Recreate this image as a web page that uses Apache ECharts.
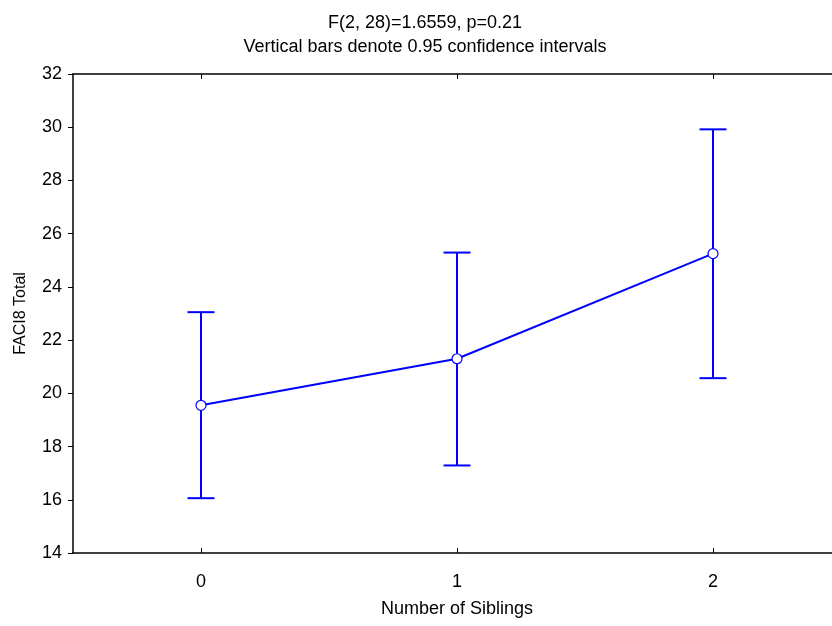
<!DOCTYPE html>
<html>
<head>
<meta charset="utf-8">
<script src="https://cdn.jsdelivr.net/npm/echarts@6/dist/echarts.min.js"></script>
<style>html,body{margin:0;padding:0;background:#fff;}#c{width:832px;height:626px;}</style>
</head>
<body>
<div id="c"></div>
<script>
var categories = ['0', '1', '2'];
var means = [19.55, 21.3, 25.25];
var lower = [16.06, 17.29, 20.57];
var upper = [23.05, 25.29, 29.92];
var yTicks = [14, 32, 2];
var titleText = 'F(2, 28)=1.6559, p=0.21';
var subtitleText = 'Vertical bars denote 0.95 confidence intervals';

var chart = echarts.init(document.getElementById('c'));
var font = 'Liberation Sans, Arial, sans-serif';
var blue = '#0000FF';
var errData = categories.map(function (c, i) { return [i, lower[i], upper[i]]; });

chart.setOption({
  animation: false,
  backgroundColor: '#fff',
  title: [
    { text: titleText, left: 420, top: 9, textAlign: 'center',
      textStyle: { fontFamily: font, fontSize: 18, fontWeight: 'normal', color: '#000' } },
    { text: subtitleText, left: 420, top: 33, textAlign: 'center',
      textStyle: { fontFamily: font, fontSize: 18, fontWeight: 'normal', color: '#000' } }
  ],
  grid: { left: 73, right: -9, top: 74, bottom: 73, containLabel: false, outerBoundsMode: 'none' },
  xAxis: [
    { type: 'category', data: categories, position: 'bottom', boundaryGap: true,
      name: 'Number of Siblings', nameLocation: 'middle', nameGap: 47,
      nameTextStyle: { fontFamily: font, fontSize: 18, color: '#000' },
      axisLine: { show: true, lineStyle: { color: '#000', width: 1.5 } },
      axisTick: { show: true, alignWithLabel: true, inside: true, length: 5, lineStyle: { color: '#000', width: 1 } },
      axisLabel: { show: true, fontFamily: font, fontSize: 18, color: '#000', margin: 20 },
      splitLine: { show: false } },
    { type: 'category', data: categories, position: 'top', boundaryGap: true,
      axisLine: { show: true, lineStyle: { color: '#000', width: 1.5 } },
      axisTick: { show: true, alignWithLabel: true, inside: true, length: 5, lineStyle: { color: '#000', width: 1 } },
      axisLabel: { show: false },
      splitLine: { show: false } }
  ],
  yAxis: {
    type: 'value', min: yTicks[0], max: yTicks[1], interval: yTicks[2],
    name: 'FACI8 Total', nameLocation: 'middle', nameGap: 44, nameRotate: 90,
    nameTextStyle: { fontFamily: font, fontSize: 16, color: '#000' },
    axisLine: { show: true, lineStyle: { color: '#000', width: 1.5 } },
    axisTick: { show: true, inside: false, length: 5, lineStyle: { color: '#000', width: 1 } },
    axisLabel: { fontFamily: font, fontSize: 18, color: '#000', margin: 11 },
    splitLine: { show: false }
  },
  series: [
    {
      type: 'custom',
      xAxisIndex: 0,
      data: errData,
      z: 2,
      renderItem: function (params, api) {
        var x = api.value(0);
        var lo = api.coord([x, api.value(1)]);
        var hi = api.coord([x, api.value(2)]);
        var hw = 13.5;
        var st = { stroke: blue, lineWidth: 2 };
        return {
          type: 'group',
          children: [
            { type: 'line', shape: { x1: lo[0], y1: lo[1], x2: hi[0], y2: hi[1] }, style: st },
            { type: 'line', shape: { x1: lo[0] - hw, y1: lo[1], x2: lo[0] + hw, y2: lo[1] }, style: st },
            { type: 'line', shape: { x1: hi[0] - hw, y1: hi[1], x2: hi[0] + hw, y2: hi[1] }, style: st }
          ]
        };
      }
    },
    {
      type: 'line',
      xAxisIndex: 0,
      data: means,
      z: 3,
      symbol: 'circle',
      symbolSize: 10,
      showAllSymbol: true,
      lineStyle: { color: blue, width: 2 },
      itemStyle: { color: '#fff', borderColor: blue, borderWidth: 1.2 }
    }
  ]
});
</script>
</body>
</html>
